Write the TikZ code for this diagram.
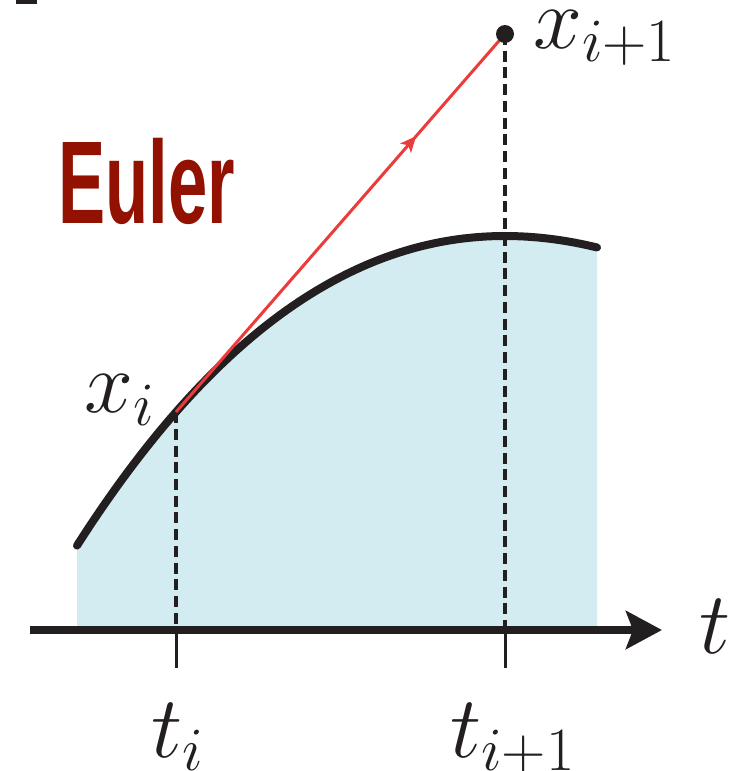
\RequirePackage{fix-cm}
\documentclass[tikz,border=0pt]{standalone}
\usepackage{fontspec}
\usepackage{tikz}
\usetikzlibrary{arrows.meta,decorations.markings}
\newfontfamily\headfont{Liberation Sans}
\definecolor{cInk}{HTML}{231F20}
\definecolor{cRed}{HTML}{EC3B3B}
\definecolor{cTitle}{HTML}{921100}
\definecolor{cArea}{HTML}{D3ECF2}

\begin{document}
\begin{tikzpicture}[x=0.02cm,y=-0.02cm,
    declare function={fy(\x)=236+14.13*((\x-505)/100)*((\x-505)/100)-0.6476*((\x-505)/100)*((\x-505)/100)*((\x-505)/100);},
    lbl/.style={inner sep=0pt,anchor=base west,text=cInk,font=\fontsize{50}{60}\selectfont},
    guide/.style={draw=cInk,line width=0.07cm,dash pattern=on 0.22cm off 0.115cm},
    tickmark/.style={draw=cInk,line width=0.06cm},
    dot/.style={circle,fill=cInk,inner sep=0pt,minimum size=0.36cm}]
    \useasboundingbox (0,0) rectangle (755,771);
    \fill[cInk] (16,0) rectangle (37,4);

    % area under the solution curve
    \fill[cArea] plot[domain=77:597,samples=90] (\x,{fy(\x)}) -- (597,630) -- (77,630) -- cycle;
    \draw[cInk,line width=0.16cm,line cap=round]
      plot[domain=77:597,samples=90] (\x,{fy(\x)});

    \coordinate (xi) at (176,{fy(176)});
    \coordinate (xnext) at (505,34);
    \coordinate (ti) at (176,630);
    \coordinate (tnext) at (505,630);
    \coordinate (tiend) at (176,668);
    \coordinate (tnextend) at (505,668);
    \coordinate (origin) at (30,630);
    \coordinate (tend) at (662,630);

    \draw[guide] (xi) -- (ti);
    \draw[guide] (xnext) -- (tnext);

    % Euler step along the tangent
    \draw[cRed,line width=0.06cm,postaction={decorate},
          decoration={markings,mark=at position 0.73 with
            {\arrow{Stealth[length=0.32cm,width=0.28cm,inset=0.08cm]}}}]
      (xi) -- (xnext);
    \node[dot] (xdot) at (xnext) {};

    % time axis
    \draw[cInk,line width=0.16cm,-{Stealth[length=0.72cm,width=0.76cm,inset=0.14cm]}]
      (origin) -- (tend);
    \draw[tickmark] (ti) -- (tiend);
    \draw[tickmark] (tnext) -- (tnextend);

    \node[lbl] (lxi) at (84,412) {$x_i$};
    \node[lbl] (lxnext) at (533,48) {$x_{i+1}$};
    \node[lbl] (lt) at (699,653) {$t$};
    \node[lbl] (lti) at (151,757) {$t_i$};
    \node[lbl] (ltnext) at (450,757) {$t_{i+1}$};

    \node[anchor=base west,inner sep=0pt,text=cTitle,
          font=\headfont\bfseries\fontsize{67}{70}\selectfont] (title) at (58,223)
      {\scalebox{0.6}[1]{Euler}};
  \end{tikzpicture}
\end{document}
